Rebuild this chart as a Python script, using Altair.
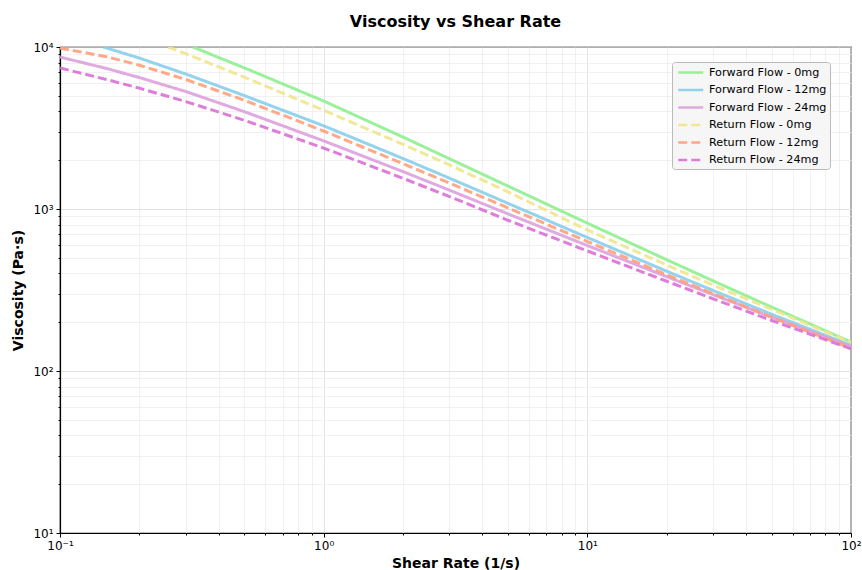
import altair as alt
import pandas as pd

series_names = ["Forward Flow - 0mg", "Forward Flow - 12mg", "Forward Flow - 24mg",
                "Return Flow - 0mg", "Return Flow - 12mg", "Return Flow - 24mg"]
colors = ["#90EE90", "#87CEEB", "#DDA0DD", "#F0E68C", "#FFA07A", "#DA70D6"]
dashes = [[1, 0], [1, 0], [1, 0], [9, 4], [9, 4], [9, 4]]

f0_x = [0.319, 0.5, 1, 2, 3, 5, 10, 20, 30, 50, 100]
f0_y = [10000, 7434, 4641, 2779, 2042, 1385, 818, 486, 360, 248, 151]

f12_x = [0.146, 0.2, 0.3, 0.5, 1, 2, 3, 5, 10, 20, 30, 50, 100]
f12_y = [10000, 8543, 6810, 5012, 3262, 2049, 1550, 1084, 667, 413, 314, 224, 144]

f24_x = [0.1, 0.15, 0.2, 0.3, 0.5, 1, 2, 3, 5, 10, 20, 30, 50, 100]
f24_y = [8670, 7373, 6476, 5311, 3990, 2633, 1701, 1307, 933, 595, 382, 296, 215, 142]

r0_x = [0.257, 0.3, 0.5, 1, 2, 3, 5, 10, 20, 30, 50, 100]
r0_y = [10000, 9085, 6519, 4069, 2504, 1870, 1275, 742, 451, 339, 240, 150]

r12_x = [0.1, 0.15, 0.2, 0.3, 0.5, 1, 2, 3, 5, 10, 20, 30, 50, 100]
r12_y = [9840, 8714, 7721, 6304, 4690, 3030, 1905, 1446, 1016, 630, 393, 300, 215, 138]

r24_x = [0.1, 0.15, 0.2, 0.3, 0.5, 1, 2, 3, 5, 10, 20, 30, 50, 100]
r24_y = [7420, 6303, 5570, 4604, 3530, 2378, 1547, 1194, 852, 551, 358, 279, 205, 137]

all_x = [f0_x, f12_x, f24_x, r0_x, r12_x, r24_x]
all_y = [f0_y, f12_y, f24_y, r0_y, r12_y, r24_y]

rows = []
for name, xs, ys in zip(series_names, all_x, all_y):
    for i, (xv, yv) in enumerate(zip(xs, ys)):
        rows.append({"series": name, "x": xv, "y": yv, "order": i})
df = pd.DataFrame(rows)

x_ticks = sorted(set([round(m * d, 6) for d in [0.1, 1, 10] for m in range(1, 10)] + [100]))
y_ticks = sorted(set([m * d for d in [10, 100, 1000] for m in range(1, 10)] + [10000]))

major_test = "abs(log(datum.value)/LN10 - round(log(datum.value)/LN10)) < 1e-6"
sup_expr = ("round(log(datum.value)/LN10) == -1 ? '10⁻¹' : "
            "round(log(datum.value)/LN10) == 0 ? '10⁰' : "
            "round(log(datum.value)/LN10) == 1 ? '10¹' : "
            "round(log(datum.value)/LN10) == 2 ? '10²' : "
            "round(log(datum.value)/LN10) == 3 ? '10³' : "
            "round(log(datum.value)/LN10) == 4 ? '10⁴' : ''")
label_expr = f"({major_test}) ? ({sup_expr}) : ''"

def make_axis(title, values):
    return alt.Axis(
        title=title,
        values=values,
        labelExpr=label_expr,
        grid=True,
        gridColor={"condition": {"test": major_test, "value": "#dcdcdc"}, "value": "#ededed"},
        gridWidth=0.8,
        tickSize={"condition": {"test": major_test, "value": 4}, "value": 2},
        tickColor="#000000",
        domainColor="#000000",
        domainWidth=1.2,
        labelFont="DejaVu Sans",
        labelFontSize=12,
        labelColor="#000000",
        titleFont="DejaVu Sans",
        titleFontSize=14,
        titleFontWeight="bold",
        titleColor="#000000",
        labelFlush=False,
        labelOverlap=False,
    )

x_axis = make_axis("Shear Rate (1/s)", x_ticks)
y_axis = make_axis("Viscosity (Pa·s)", y_ticks)

chart = alt.Chart(df).mark_line(strokeWidth=3, opacity=0.9, clip=True).encode(
    x=alt.X("x:Q", scale=alt.Scale(type="log", domain=[0.1, 100], nice=False), axis=x_axis),
    y=alt.Y("y:Q", scale=alt.Scale(type="log", domain=[10, 10000], nice=False), axis=y_axis),
    color=alt.Color("series:N", scale=alt.Scale(domain=series_names, range=colors),
                    legend=alt.Legend(title=None)),
    strokeDash=alt.StrokeDash("series:N", scale=alt.Scale(domain=series_names, range=dashes),
                              legend=alt.Legend(title=None)),
    order="order:Q",
).properties(
    width=791,
    height=486,
    title=alt.TitleParams("Viscosity vs Shear Rate", font="DejaVu Sans", fontSize=16,
                          fontWeight="bold", color="#000000", offset=11),
    autosize=alt.AutoSizeParams(type="none"),
    padding={"left": 60, "top": 47, "right": 11, "bottom": 37},
).configure_view(
    stroke="#000000", strokeWidth=1.2
).configure_axisX(
    titlePadding=5, labelPadding=3
).configure_axisY(
    titlePadding=7, labelPadding=3
).configure_legend(
    orient="none",
    legendX=612,
    legendY=15,
    padding=3,
    fillColor="#f6f6f6",
    strokeColor="#bbbbbb",
    cornerRadius=3,
    symbolType="M-1,0L3,0",
    symbolSize=156,
    symbolOffset=2,
    symbolStrokeWidth=2.5,
    labelFont="DejaVu Sans",
    labelFontSize=11.2,
    labelColor="#000000",
    labelOffset=17,
    rowPadding=4.5,
)

chart.save("out.html", embed_options={"renderer": "svg", "actions": False})
